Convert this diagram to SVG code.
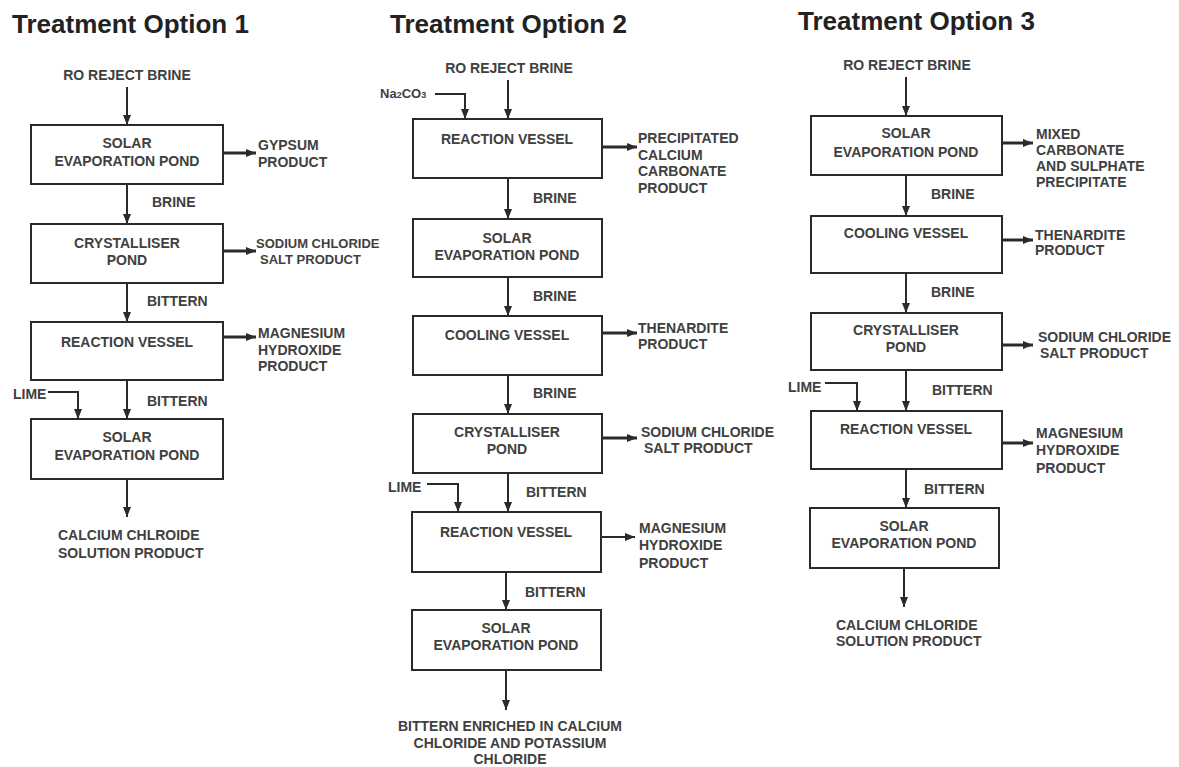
<svg xmlns="http://www.w3.org/2000/svg" width="1179" height="767" viewBox="0 0 1179 767">
<style>
.title{font-family:"Liberation Sans",Arial,sans-serif;font-weight:bold;font-size:26px;fill:#222}
.t{font-family:"Liberation Sans",Arial,sans-serif;font-weight:bold;font-size:14px;fill:#404040}
.c{text-anchor:middle}
.box{fill:#fff;stroke:#2a2a2a;stroke-width:2}
.ln{fill:none;stroke:#2a2a2a;stroke-width:2;marker-end:url(#ah)}
.lh{fill:none;stroke:#2a2a2a;stroke-width:3;marker-end:url(#ah)}
</style>
<defs>
<marker id="ah" viewBox="0 0 10 10" refX="10" refY="5" markerWidth="10" markerHeight="10" markerUnits="userSpaceOnUse" orient="auto">
<path d="M0,1 L10,5 L0,9 z" fill="#2a2a2a"/>
</marker>
</defs>
<rect width="1179" height="767" fill="#fff"/>

<g id="titles">
<text class="title" x="12" y="33">Treatment Option 1</text>
<text class="title" x="390" y="33">Treatment Option 2</text>
<text class="title" x="798" y="30">Treatment Option 3</text>
</g>

<g id="connectors">
<!-- option 1 -->
<path class="ln" d="M127,87 V125"/>
<path class="lh" d="M223,153 H256"/>
<path class="ln" d="M127,184 V224"/>
<path class="lh" d="M223,251 H256"/>
<path class="ln" d="M127,283 V322"/>
<path class="lh" d="M223,337 H256"/>
<path class="ln" d="M127,380 V419"/>
<path class="ln" d="M48,392 H78 V419"/>
<path class="ln" d="M127,479 V517"/>
<!-- option 2 -->
<path class="ln" d="M508,80 V119"/>
<path class="ln" d="M435,94 H465 V119"/>
<path class="lh" d="M602,147 H637"/>
<path class="ln" d="M508,178 V219"/>
<path class="ln" d="M508,277 V316"/>
<path class="lh" d="M602,333 H637"/>
<path class="ln" d="M508,375 V414"/>
<path class="lh" d="M602,438 H637"/>
<path class="ln" d="M508,473 V512"/>
<path class="ln" d="M427,484 H458 V512"/>
<path class="ln" d="M601,537 H635"/>
<path class="ln" d="M506,572 V610"/>
<path class="ln" d="M506,670 V710"/>
<!-- option 3 -->
<path class="ln" d="M906,77 V116"/>
<path class="lh" d="M1002,143 H1033"/>
<path class="ln" d="M906,175 V216"/>
<path class="lh" d="M1002,240 H1033"/>
<path class="ln" d="M906,273 V313"/>
<path class="lh" d="M1002,345 H1033"/>
<path class="ln" d="M906,370 V411"/>
<path class="ln" d="M825,383 H857 V411"/>
<path class="lh" d="M1002,443 H1033"/>
<path class="ln" d="M906,469 V508"/>
<path class="ln" d="M904,568 V607"/>
</g>

<g id="labels">
<!-- option 1 -->
<text class="t c" x="127" y="80">RO REJECT BRINE</text>
<text class="t" x="258" y="150">GYPSUM</text>
<text class="t" x="258" y="167">PRODUCT</text>
<text class="t" x="152" y="207">BRINE</text>
<text class="t" x="256" y="248" style="font-size:13px">SODIUM CHLORIDE</text>
<text class="t" x="260" y="264" style="font-size:13px">SALT PRODUCT</text>
<text class="t" x="147" y="306">BITTERN</text>
<text class="t" x="258" y="338">MAGNESIUM</text>
<text class="t" x="258" y="355">HYDROXIDE</text>
<text class="t" x="258" y="371">PRODUCT</text>
<text class="t" x="13" y="399">LIME</text>
<text class="t" x="147" y="406">BITTERN</text>
<text class="t" x="58" y="540">CALCIUM CHLROIDE</text>
<text class="t" x="58" y="558">SOLUTION PRODUCT</text>
<!-- option 2 -->
<text class="t c" x="509" y="73">RO REJECT BRINE</text>
<text class="t" x="380" y="98" style="font-size:13px">Na<tspan font-size="9">2</tspan>CO<tspan font-size="9">3</tspan></text>
<text class="t" x="638" y="143">PRECIPITATED</text>
<text class="t" x="638" y="160">CALCIUM</text>
<text class="t" x="638" y="176">CARBONATE</text>
<text class="t" x="638" y="193">PRODUCT</text>
<text class="t" x="533" y="203">BRINE</text>
<text class="t" x="533" y="301">BRINE</text>
<text class="t" x="638" y="333">THENARDITE</text>
<text class="t" x="638" y="349">PRODUCT</text>
<text class="t" x="533" y="398">BRINE</text>
<text class="t" x="641" y="437">SODIUM CHLORIDE</text>
<text class="t" x="644" y="453">SALT PRODUCT</text>
<text class="t" x="388" y="492">LIME</text>
<text class="t" x="526" y="497">BITTERN</text>
<text class="t" x="639" y="533">MAGNESIUM</text>
<text class="t" x="639" y="550">HYDROXIDE</text>
<text class="t" x="639" y="568">PRODUCT</text>
<text class="t" x="525" y="597">BITTERN</text>
<text class="t c" x="510" y="731">BITTERN ENRICHED IN CALCIUM</text>
<text class="t c" x="510" y="748">CHLORIDE AND POTASSIUM</text>
<text class="t c" x="510" y="764">CHLORIDE</text>
<!-- option 3 -->
<text class="t c" x="907" y="70">RO REJECT BRINE</text>
<text class="t" x="1036" y="139">MIXED</text>
<text class="t" x="1036" y="155">CARBONATE</text>
<text class="t" x="1036" y="171">AND SULPHATE</text>
<text class="t" x="1036" y="187">PRECIPITATE</text>
<text class="t" x="931" y="199">BRINE</text>
<text class="t" x="1035" y="240">THENARDITE</text>
<text class="t" x="1035" y="255">PRODUCT</text>
<text class="t" x="931" y="297">BRINE</text>
<text class="t" x="1038" y="342">SODIUM CHLORIDE</text>
<text class="t" x="1040" y="358">SALT PRODUCT</text>
<text class="t" x="788" y="392">LIME</text>
<text class="t" x="932" y="395">BITTERN</text>
<text class="t" x="1036" y="438">MAGNESIUM</text>
<text class="t" x="1036" y="455">HYDROXIDE</text>
<text class="t" x="1036" y="473">PRODUCT</text>
<text class="t" x="924" y="494">BITTERN</text>
<text class="t" x="836" y="630">CALCIUM CHLORIDE</text>
<text class="t" x="836" y="646">SOLUTION PRODUCT</text>
</g>

<!-- option 1 nodes -->
<g id="o1-solar1"><rect class="box" x="31" y="125" width="192" height="59"/><text class="t c" x="127" y="148">SOLAR</text><text class="t c" x="127" y="166">EVAPORATION POND</text></g>
<g id="o1-cryst"><rect class="box" x="31" y="224" width="192" height="59"/><text class="t c" x="127" y="248">CRYSTALLISER</text><text class="t c" x="127" y="265">POND</text></g>
<g id="o1-react"><rect class="box" x="31" y="322" width="192" height="58"/><text class="t c" x="127" y="347">REACTION VESSEL</text></g>
<g id="o1-solar2"><rect class="box" x="31" y="419" width="192" height="60"/><text class="t c" x="127" y="442">SOLAR</text><text class="t c" x="127" y="460">EVAPORATION POND</text></g>

<!-- option 2 nodes -->
<g id="o2-react1"><rect class="box" x="413" y="119" width="189" height="59"/><text class="t c" x="507" y="144">REACTION VESSEL</text></g>
<g id="o2-solar1"><rect class="box" x="413" y="219" width="189" height="58"/><text class="t c" x="507" y="243">SOLAR</text><text class="t c" x="507" y="260">EVAPORATION POND</text></g>
<g id="o2-cool"><rect class="box" x="413" y="316" width="189" height="59"/><text class="t c" x="507" y="340">COOLING VESSEL</text></g>
<g id="o2-cryst"><rect class="box" x="413" y="414" width="189" height="59"/><text class="t c" x="507" y="437">CRYSTALLISER</text><text class="t c" x="507" y="454">POND</text></g>
<g id="o2-react2"><rect class="box" x="412" y="512" width="189" height="60"/><text class="t c" x="506" y="537">REACTION VESSEL</text></g>
<g id="o2-solar2"><rect class="box" x="412" y="610" width="189" height="60"/><text class="t c" x="506" y="633">SOLAR</text><text class="t c" x="506" y="650">EVAPORATION POND</text></g>

<!-- option 3 nodes -->
<g id="o3-solar1"><rect class="box" x="811" y="116" width="191" height="59"/><text class="t c" x="906" y="138">SOLAR</text><text class="t c" x="906" y="157">EVAPORATION POND</text></g>
<g id="o3-cool"><rect class="box" x="811" y="216" width="191" height="57"/><text class="t c" x="906" y="238">COOLING VESSEL</text></g>
<g id="o3-cryst"><rect class="box" x="811" y="313" width="191" height="57"/><text class="t c" x="906" y="335">CRYSTALLISER</text><text class="t c" x="906" y="352">POND</text></g>
<g id="o3-react"><rect class="box" x="811" y="411" width="191" height="58"/><text class="t c" x="906" y="434">REACTION VESSEL</text></g>
<g id="o3-solar2"><rect class="box" x="810" y="508" width="189" height="60"/><text class="t c" x="904" y="531">SOLAR</text><text class="t c" x="904" y="548">EVAPORATION POND</text></g>
</svg>
